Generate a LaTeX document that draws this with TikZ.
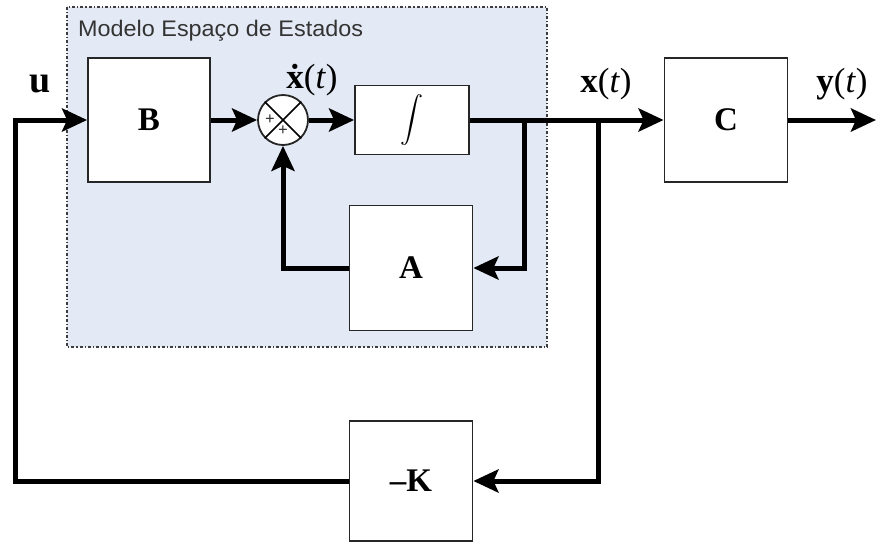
\documentclass[tikz,border=0pt]{standalone}
\usepackage{fontspec}
\usepackage{graphicx}
\setmainfont{Liberation Serif}
\newfontfamily\lblfont{Liberation Sans}
\usetikzlibrary{arrows.meta,calc}
\definecolor{bgblue}{RGB}{228,234,245}
\definecolor{dashgray}{RGB}{60,60,60}
\tikzset{
  blk/.style={draw=black!85, line width=1.8pt, fill=white, inner sep=0pt,
    font=\fontsize{33}{35}\selectfont\bfseries},
  sig/.style={line width=5pt, -{Stealth[length=25pt,width=23pt,inset=5pt]}},
  sumlbl/.style={font=\fontsize{17}{17}\selectfont\bfseries, inner sep=0pt, text=black!80},
  lab/.style={font=\fontsize{35}{37}\selectfont, inner sep=0pt}
}
\begin{document}
\begin{tikzpicture}[x=1pt,y=-1pt]
\useasboundingbox (0,0) rectangle (877,544);
% background model region
\draw[fill=bgblue, draw=dashgray, line width=1.2pt, dash dot] (67,7) rectangle (547,347);
\node[anchor=west, font=\lblfont\fontsize{22.5}{23}\selectfont, text=black!80, inner sep=0pt] (title) at (78,31) {\scalebox{1.04}[1]{Modelo Espaço de Estados}};
% blocks
\node[blk, minimum width=122pt, minimum height=124pt] (B) at (149,120) {B};
\node[draw=black!85, line width=1.8pt, fill=white, circle, minimum size=50pt, inner sep=0pt] (sum) at (283,120) {};
\draw[line width=1.5pt] (sum.north west) -- (sum.south east);
\draw[line width=1.5pt] (sum.north east) -- (sum.south west);
\node[sumlbl] (p1) at ($(sum.center)+(-13,0)$) {+};
\node[sumlbl] (p2) at ($(sum.center)+(0,11)$) {+};
\node[blk, minimum width=114pt, minimum height=69pt] (int) at (412,120) {\scalebox{2.3}{\fontsize{20}{20}\selectfont$\displaystyle\int$}};
\node[blk, minimum width=123pt, minimum height=124pt] (C) at (726,120) {C};
\node[blk, minimum width=123pt, minimum height=125pt] (A) at (411,268) {A};
\node[blk, minimum width=123pt, minimum height=120pt] (K) at (411,481) {--K};
% coordinates
\coordinate (br1) at (524,120);
\coordinate (br2) at (598,120);
\coordinate (out) at (876,120);
\coordinate (lc) at (15,481);
\coordinate (tc) at (15,120);
% connectors
\draw[sig] (B.east) -- (sum.west);
\draw[sig] (sum.east) -- (int.west);
\draw[sig] (int.east) -- (C.west);
\draw[sig] (C.east) -- (out);
\draw[sig] (br1) |- (A.east);
\draw[sig] (A.west) -| (sum.south);
\draw[sig] (br2) |- (K.east);
\draw[sig] (K.west) -- (lc) -- (tc) -- (B.west);
% labels
\node[lab, font=\fontsize{38}{40}\selectfont\bfseries] (ulab) at (40,84) {u};
\node[lab] (xdlab) at (312,80) {\textbf{\.{x}}(\textit{t})};
\node[lab] (xlab) at (606,84) {\textbf{x}(\textit{t})};
\node[lab] (ylab) at (842,84) {\textbf{y}(\textit{t})};
\end{tikzpicture}
\end{document}
